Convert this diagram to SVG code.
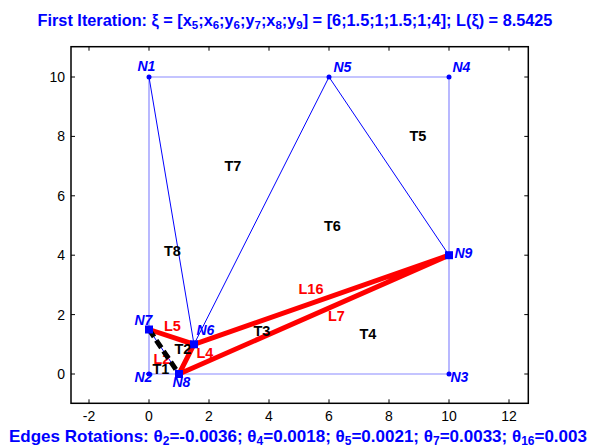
<svg xmlns="http://www.w3.org/2000/svg" width="590" height="448" viewBox="0 0 590 448">
<style>
text{font-family:"Liberation Sans",Arial,sans-serif}
.tick{font-size:14px;fill:#000}
.nl{font-size:14px;font-weight:bold;font-style:italic;fill:#0000ff}
.ll{font-size:14.5px;font-weight:bold;fill:#ff0000}
.tl{font-size:14.5px;font-weight:bold;fill:#000}
.ttl{font-size:16.3px;font-weight:bold;fill:#0000ff}
.ftr{font-size:17px;font-weight:bold;fill:#0000ff}
.bnd{stroke:#8a8aff;stroke-width:1.2;fill:none}
.edg{stroke:#0000ff;stroke-width:1;fill:none}
.red{stroke:#ff0000;stroke-width:5;stroke-linecap:butt;fill:none}
.dash{stroke:#000;stroke-width:5;stroke-dasharray:9,4;fill:none}
.ax{stroke:#000;stroke-width:1.5;fill:none}
.tk{stroke:#000;stroke-width:1}
.dot{fill:#0000ff}
.sq{fill:#0000ff}
</style>
<rect width="590" height="448" fill="#fff"/>
<g id="title"><text class="ttl" x="295" y="26" text-anchor="middle">First Iteration: ξ = [x<tspan font-size="11.5" dy="3">5</tspan><tspan dy="-3">;x</tspan><tspan font-size="11.5" dy="3">6</tspan><tspan dy="-3">;y</tspan><tspan font-size="11.5" dy="3">6</tspan><tspan dy="-3">;y</tspan><tspan font-size="11.5" dy="3">7</tspan><tspan dy="-3">;x</tspan><tspan font-size="11.5" dy="3">8</tspan><tspan dy="-3">;y</tspan><tspan font-size="11.5" dy="3">9</tspan><tspan dy="-3">] = [6;1.5;1;1.5;1;4]; L(ξ) = 8.5425</tspan></text></g>
<g id="axes">
<rect class="ax" x="71" y="46.7" width="457.3" height="356.6"/>
<g class="tk">
<path d="M89 403.3v-4M149 403.3v-4M209 403.3v-4M269 403.3v-4M329 403.3v-4M389 403.3v-4M449 403.3v-4M509 403.3v-4"/>
<path d="M89 46.7v4M149 46.7v4M209 46.7v4M269 46.7v4M329 46.7v4M389 46.7v4M449 46.7v4M509 46.7v4"/>
<path d="M71 374h4M71 314.6h4M71 255.2h4M71 195.8h4M71 136.4h4M71 77h4"/>
<path d="M528.3 374h-4M528.3 314.6h-4M528.3 255.2h-4M528.3 195.8h-4M528.3 136.4h-4M528.3 77h-4"/>
</g>
<g class="tick" text-anchor="middle">
<text x="89" y="421">-2</text><text x="149" y="421">0</text><text x="209" y="421">2</text><text x="269" y="421">4</text><text x="329" y="421">6</text><text x="389" y="421">8</text><text x="449" y="421">10</text><text x="509" y="421">12</text>
</g>
<g class="tick" text-anchor="end">
<text x="65" y="379">0</text><text x="65" y="319.6">2</text><text x="65" y="260.2">4</text><text x="65" y="200.8">6</text><text x="65" y="141.4">8</text><text x="65" y="82">10</text>
</g>
</g>
<g id="connectors">
<path class="bnd" d="M149 77H449V374H149Z"/>
<path class="edg" d="M149 77L194 344.3L329 77L449 255.2M149 329.5L179 374"/>
<path class="red" d="M149 329.5L194 344.3L179 374M194 344.3L449 255.2L179 374"/>
</g>
<g id="edge-labels">
<text class="ll" x="164" y="331">L5</text>
<text class="ll" x="196.5" y="357.5">L4</text>
<text class="ll" x="153.5" y="363.5">L2</text>
<text class="ll" x="298.5" y="294">L16</text>
<text class="ll" x="328" y="321">L7</text>
</g>
<path class="dash" d="M149 329.5L179 374"/>
<g id="N1"><circle class="dot" cx="149" cy="77" r="2.5"/><text class="nl" x="137.5" y="71">N1</text></g>
<g id="N2"><circle class="dot" cx="149" cy="374" r="2.5"/><text class="nl" x="134.5" y="382">N2</text></g>
<g id="N3"><circle class="dot" cx="449" cy="374" r="2.5"/><text class="nl" x="450.5" y="382">N3</text></g>
<g id="N4"><circle class="dot" cx="449" cy="77" r="2.5"/><text class="nl" x="452.5" y="71.5">N4</text></g>
<g id="N5"><circle class="dot" cx="329" cy="77" r="2.5"/><text class="nl" x="333.5" y="71.5">N5</text></g>
<g id="N6"><rect class="sq" x="190" y="340.3" width="8" height="8"/><text class="nl" x="196.5" y="335">N6</text></g>
<g id="N7"><rect class="sq" x="145" y="325.5" width="8" height="8"/><text class="nl" x="134.5" y="325">N7</text></g>
<g id="N8"><rect class="sq" x="175" y="370" width="8" height="8"/><text class="nl" x="172.5" y="387">N8</text></g>
<g id="N9"><rect class="sq" x="445" y="251.2" width="8" height="8"/><text class="nl" x="454.5" y="257.5">N9</text></g>
<g id="triangles">
<text class="tl" x="152.5" y="374">T1</text>
<text class="tl" x="174.5" y="354">T2</text>
<text class="tl" x="253.5" y="336">T3</text>
<text class="tl" x="359.5" y="339">T4</text>
<text class="tl" x="409.5" y="141">T5</text>
<text class="tl" x="324" y="230.5">T6</text>
<text class="tl" x="224.5" y="171">T7</text>
<text class="tl" x="164" y="255.5">T8</text>
</g>
<g id="footer"><text class="ftr" x="9" y="442">Edges Rotations: θ<tspan font-size="12" dy="3">2</tspan><tspan dy="-3">=-0.0036; θ</tspan><tspan font-size="12" dy="3">4</tspan><tspan dy="-3">=0.0018; θ</tspan><tspan font-size="12" dy="3">5</tspan><tspan dy="-3">=0.0021; θ</tspan><tspan font-size="12" dy="3">7</tspan><tspan dy="-3">=0.0033; θ</tspan><tspan font-size="12" dy="3">16</tspan><tspan dy="-3">=0.003</tspan></text></g>
</svg>
